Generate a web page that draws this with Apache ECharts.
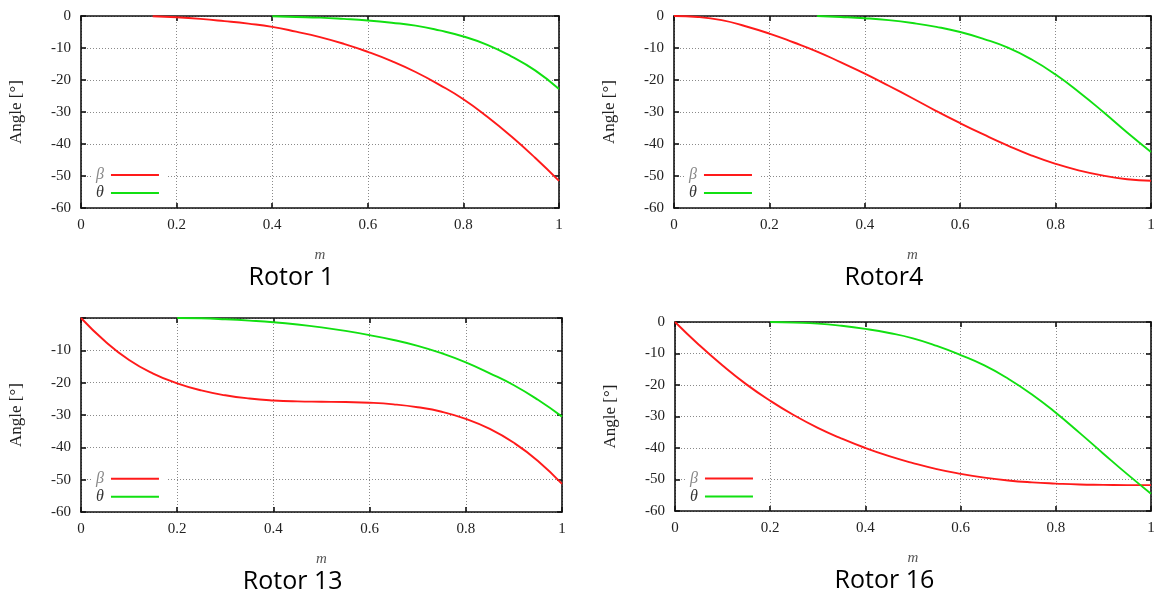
<!DOCTYPE html>
<html>
<head>
<meta charset="utf-8">
<script src="https://cdn.jsdelivr.net/npm/echarts@6/dist/echarts.min.js"></script>
<style>
  html, body { margin: 0; padding: 0; background: #fff; }
  #main { width: 1159px; height: 601px; }
</style>
</head>
<body>
<div id="main"></div>
<script>
// shared m positions for all curves
var mValues = [0, 0.05, 0.1, 0.15, 0.2, 0.25, 0.3, 0.35, 0.4, 0.45, 0.5,
               0.55, 0.6, 0.65, 0.7, 0.75, 0.8, 0.85, 0.9, 0.95, 1];
var xTicks = [0, 0.2, 0.4, 0.6, 0.8, 1];
var yTicks = [0, -10, -20, -30, -40, -50, -60];
var captions = ["Rotor 1", "Rotor4", "Rotor 13", "Rotor 16"];

// beta (red) and theta (green) per rotor, null = hidden under the top border
var betaRotor1 = [null, null, null, -0.1, -0.4, -0.9, -1.6, -2.4, -3.4, -4.9, -6.6,
                  -8.7, -11.2, -14.1, -17.5, -21.5, -26, -31.5, -37.6, -44.3, -51.5];
var thetaRotor1 = [null, null, null, null, null, null, null, null, -0.1, -0.3, -0.5,
                   -0.9, -1.4, -2.1, -3.0, -4.5, -6.4, -9.0, -12.6, -17.0, -22.8];
var betaRotor4 = [0, -0.3, -1.3, -3.2, -5.5, -8.2, -11.1, -14.5, -18.0, -21.8, -25.7,
                  -29.7, -33.5, -37.1, -40.5, -43.6, -46.2, -48.3, -49.9, -51.0, -51.5];
var thetaRotor4 = [null, null, null, null, null, null, 0, -0.3, -0.7, -1.3, -2.2,
                   -3.4, -5.0, -7.2, -9.9, -13.6, -18.3, -23.9, -30.0, -36.4, -42.5];
var betaRotor13 = [0, -7.2, -13.0, -17.2, -20.2, -22.4, -23.9, -24.9, -25.5, -25.8, -25.9,
                   -26.0, -26.2, -26.7, -27.6, -29.0, -31.2, -34.3, -38.6, -44.2, -51.3];
var thetaRotor13 = [null, null, null, null, 0, -0.1, -0.4, -0.8, -1.3, -2.0, -2.9,
                    -4.0, -5.3, -6.8, -8.6, -10.9, -13.7, -17.1, -20.8, -25.3, -30.5];
var betaRotor16 = [0, -7.2, -13.8, -19.8, -25.0, -29.6, -33.6, -37.0, -40.0, -42.6, -44.8,
                   -46.7, -48.2, -49.4, -50.3, -50.9, -51.3, -51.6, -51.7, -51.8, -51.8];
var thetaRotor16 = [null, null, null, null, 0, -0.2, -0.5, -1.2, -2.2, -3.5, -5.2,
                    -7.6, -10.5, -13.8, -18.0, -23.0, -28.8, -35.2, -41.8, -48.3, -54.5];

var betaSets = [betaRotor1, betaRotor4, betaRotor13, betaRotor16];
var thetaSets = [thetaRotor1, thetaRotor4, thetaRotor13, thetaRotor16];

// plot boxes
var boxes = [
  { left: 81, top: 16, width: 478, height: 192 },
  { left: 674, top: 16, width: 477, height: 192 },
  { left: 81, top: 318, width: 481, height: 194 },
  { left: 675, top: 322, width: 476, height: 189 }
];

var serif = "'Liberation Serif', 'DejaVu Serif', serif";
var frame = { show: true, onZero: false, lineStyle: { color: "#111", width: 1.6 } };
var ticks = { show: true, inside: true, length: 5, lineStyle: { color: "#111", width: 1.6 } };
var dotted = { show: true, lineStyle: { color: "#8a8a8a", width: 1, type: [1, 2] } };

function pairs(ys) {
  return mValues.map(function (m, i) { return [m, ys[i]]; });
}

var grids = [], xAxes = [], yAxes = [], series = [], legends = [], texts = [];

boxes.forEach(function (b, i) {
  grids.push({ left: b.left, top: b.top, width: b.width, height: b.height, containLabel: false });

  xAxes.push({
    gridIndex: i, type: "value", position: "bottom",
    min: xTicks[0], max: xTicks[xTicks.length - 1], interval: 0.2,
    axisLine: frame, axisTick: ticks, splitLine: dotted,
    axisLabel: {
      margin: 10, fontFamily: serif, fontSize: 15, color: "#222",
      formatter: function (v) { return (v === 0 || v === 1) ? String(v) : v.toFixed(1); }
    },
    name: "m", nameLocation: "middle", nameGap: 40,
    nameTextStyle: { fontFamily: serif, fontStyle: "italic", fontSize: 15, color: "#555" }
  });
  xAxes.push({
    gridIndex: i, type: "value", position: "top",
    min: 0, max: 1, interval: 0.2,
    axisLine: frame, axisTick: ticks, axisLabel: { show: false }, splitLine: { show: false }
  });

  yAxes.push({
    gridIndex: i, type: "value", position: "left",
    min: yTicks[yTicks.length - 1], max: yTicks[0], interval: 10,
    axisLine: frame, axisTick: ticks, splitLine: dotted,
    axisLabel: {
      margin: 10, fontFamily: serif, fontSize: 15, color: "#222",
      formatter: function (v) { return (i === 2 && v === 0) ? "" : String(v); }
    },
    name: "Angle [°]", nameLocation: "middle", nameGap: 56,
    nameTextStyle: { fontFamily: serif, fontSize: 17, color: "#222" }
  });
  yAxes.push({
    gridIndex: i, type: "value", position: "right",
    min: -60, max: 0, interval: 10,
    axisLine: frame, axisTick: ticks, axisLabel: { show: false }, splitLine: { show: false }
  });

  series.push({
    name: "β", type: "line", xAxisIndex: 2 * i, yAxisIndex: 2 * i,
    data: pairs(betaSets[i]), smooth: 0.5, showSymbol: false,
    color: "#ff1a1a", lineStyle: { width: 1.9, color: "#ff1a1a" }, z: 3
  });
  series.push({
    name: "θ", type: "line", xAxisIndex: 2 * i, yAxisIndex: 2 * i,
    data: pairs(thetaSets[i]), smooth: 0.5, showSymbol: false,
    color: "#11e011", lineStyle: { width: 1.9, color: "#11e011" }, z: 3
  });

  // legend sits on the -50 grid line, text left of the line sample
  var y50 = b.top + b.height * 50 / 60;
  legends.push({
    orient: "vertical", left: b.left + 12, top: y50 - 9,
    align: "right", icon: "rect", itemWidth: 48, itemHeight: 2, itemGap: 2,
    padding: [0, 8, 0, 3], backgroundColor: "#fff",
    textStyle: { fontFamily: serif, fontStyle: "italic", fontSize: 16, padding: [0, 2, 0, 0] },
    data: [
      { name: "β", textStyle: { color: "#888" } },
      { name: "θ", textStyle: { color: "#333" } }
    ]
  });

  texts.push({
    type: "text", x: b.left + b.width * 0.44, y: b.top + b.height + 70,
    style: {
      text: captions[i], align: "center", verticalAlign: "middle",
      font: "25px 'Open Sans', 'Noto Sans', sans-serif", fill: "#000"
    }
  });
});

var chart = echarts.init(document.getElementById("main"));
chart.setOption({
  animation: false,
  backgroundColor: "#fff",
  grid: grids,
  xAxis: xAxes,
  yAxis: yAxes,
  legend: legends,
  series: series,
  graphic: texts
});
</script>
</body>
</html>
